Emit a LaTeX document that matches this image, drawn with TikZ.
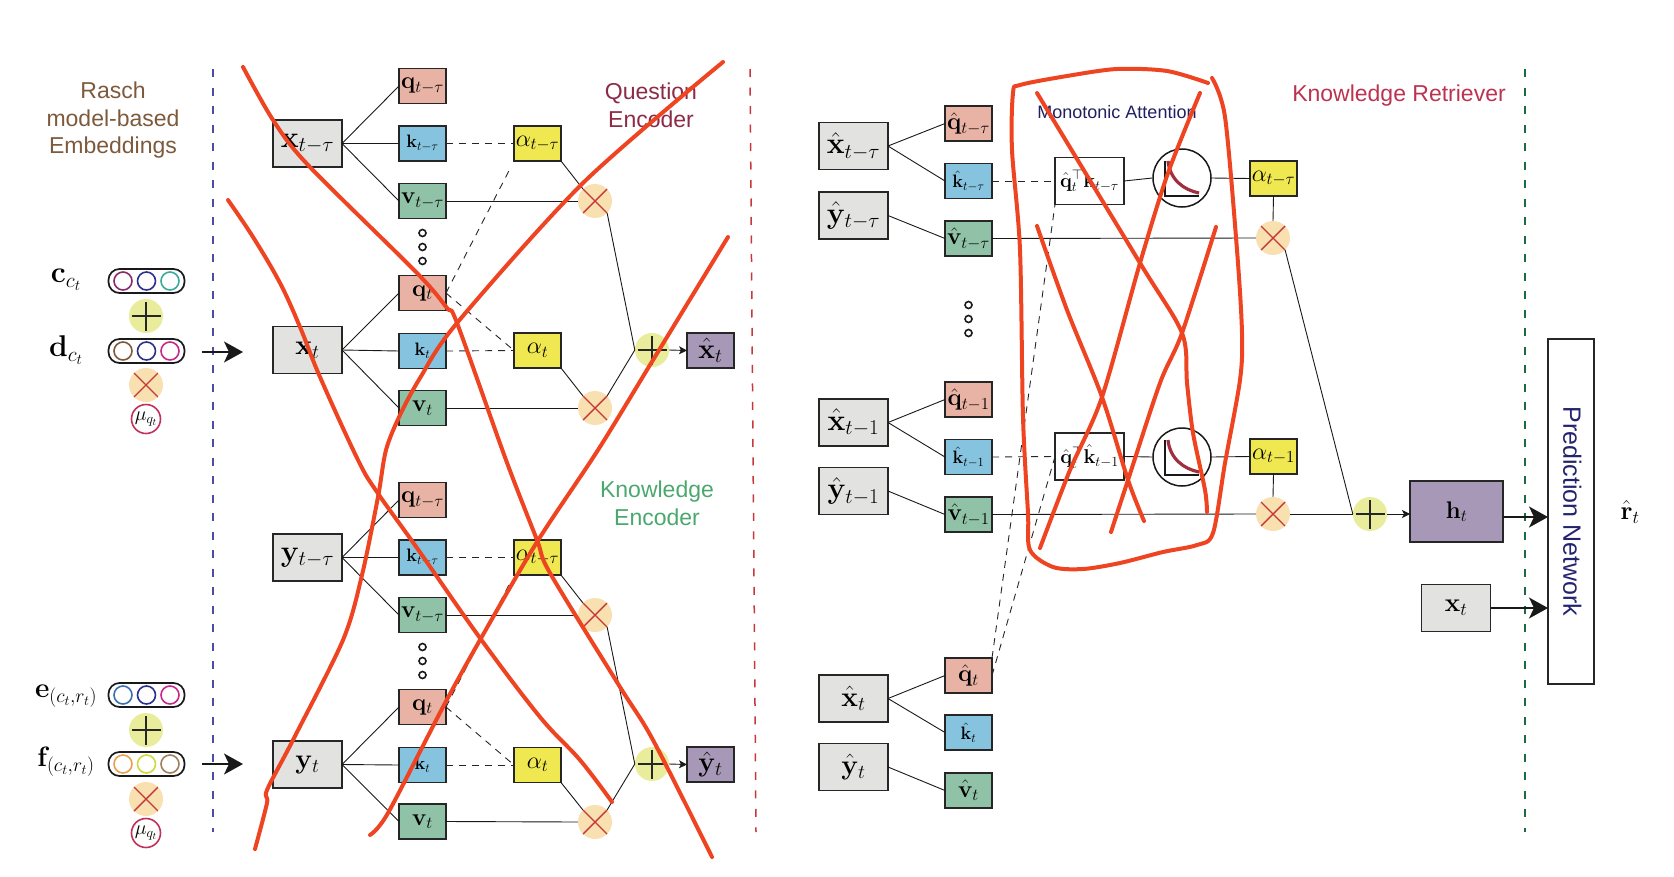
\documentclass[tikz,border=0pt]{standalone}
\usepackage{fix-cm}
\usepackage[no-math]{fontspec}
\usetikzlibrary{arrows.meta}
\newfontfamily\labelfont{Liberation Sans}
\newcommand{\hatb}[1]{\hat{\mathbf{#1}}}
\definecolor{boxgray}{HTML}{E2E2E0}
\definecolor{qfill}{HTML}{E8B2A4}
\definecolor{kfill}{HTML}{85C3DE}
\definecolor{vfill}{HTML}{8FC2A6}
\definecolor{afill}{HTML}{F0E850}
\definecolor{pfill}{HTML}{A898B8}
\definecolor{addfill}{HTML}{E9EC9A}
\definecolor{mulfill}{HTML}{F8E0B0}
\definecolor{mulred}{HTML}{C7383A}
\definecolor{navyc}{HTML}{2B2F8F}
\definecolor{brownc}{HTML}{7D5A3C}
\definecolor{magc}{HTML}{C8278A}
\definecolor{plumc}{HTML}{8A2A6A}
\definecolor{tealc}{HTML}{3AA89A}
\definecolor{bluec}{HTML}{3A6FB0}
\definecolor{orangec}{HTML}{E8A050}
\definecolor{limec}{HTML}{CFD840}
\definecolor{tanc}{HTML}{A07F5A}
\definecolor{murose}{HTML}{C0305A}
\definecolor{curvec}{HTML}{A03040}
\definecolor{qenctext}{HTML}{8C2A48}
\definecolor{kenctext}{HTML}{4AA86E}
\definecolor{krettext}{HTML}{BB3350}
\definecolor{monotext}{HTML}{1E2060}
\definecolor{predtext}{HTML}{24246E}
\definecolor{sepgreen}{HTML}{1E6A40}
\definecolor{pen}{HTML}{EE4422}
\tikzset{
  basebox/.style={draw=black!85,line width=1.7,inner sep=0,outer sep=0},
  sizebig/.style={font=\fontsize{30}{32}\selectfont},
  sizet/.style={font=\fontsize{28}{30}\selectfont},
  sizemid/.style={font=\fontsize{24}{26}\selectfont},
  sizek/.style={font=\fontsize{18}{20}\selectfont},
  emb/.style={basebox,fill=boxgray,minimum width=69,minimum height=47},
  qbox/.style={basebox,fill=qfill,minimum width=47,minimum height=35,sizemid},
  kbox/.style={basebox,fill=kfill,minimum width=47,minimum height=35,sizek},
  vbox/.style={basebox,fill=vfill,minimum width=47,minimum height=35,sizemid},
  abox/.style={basebox,fill=afill,minimum width=47,minimum height=35,sizemid},
  pbox/.style={basebox,fill=pfill,minimum width=47,minimum height=35,sizemid},
  attbox/.style={basebox,fill=white,minimum width=69,minimum height=47,font=\fontsize{20}{22}\selectfont},
  dotnode/.style={circle,draw=black!90,line width=1.6,minimum size=7,inner sep=0},
  addnode/.style={circle,fill=addfill,minimum size=34,inner sep=0,path picture={
    \draw[black!85,line width=1.2] ([xshift=-14.5pt]path picture bounding box.center) -- ([xshift=14.5pt]path picture bounding box.center);
    \draw[black!85,line width=1.2] ([yshift=-14.5pt]path picture bounding box.center) -- ([yshift=14.5pt]path picture bounding box.center);}},
  mulnode/.style={circle,fill=mulfill,minimum size=34,inner sep=0,path picture={
    \draw[mulred,line width=1.4] ([shift={(-12.5pt,-12.5pt)}]path picture bounding box.center) -- ([shift={(12.5pt,12.5pt)}]path picture bounding box.center);
    \draw[mulred,line width=1.4] ([shift={(-12.5pt,12.5pt)}]path picture bounding box.center) -- ([shift={(12.5pt,-12.5pt)}]path picture bounding box.center);}},
  pill/.style={draw=black!90,line width=1.7,rounded corners=11,minimum width=76,minimum height=24,inner sep=0},
  ring/.style={circle,line width=1.6,minimum size=18,inner sep=0},
  murng/.style={circle,draw=murose,line width=1.6,minimum size=29,inner sep=0,font=\fontsize{20}{22}\selectfont},
  wire/.style={black!90,line width=0.9},
  dashwire/.style={black!85,line width=0.9,dash pattern=on 7pt off 6pt},
  bigarrow/.style={black!90,line width=1.5,-{Stealth[length=19,width=21,inset=5]}},
  smallarrow/.style={black!90,line width=0.9,-{Stealth[length=8,width=8,inset=2]}},
  sepline/.style={line width=1.5,dash pattern=on 8pt off 10.5pt},
  sftext/.style={font=\labelfont\fontsize{23}{27.5}\selectfont,align=center,inner sep=0},
  redpen/.style={pen,line width=4,line cap=round,line join=round}
}
\begin{document}
\begin{tikzpicture}[x=1pt,y=-1pt]
	\useasboundingbox (0,0) rectangle (1674,876);

	\node[sftext,text=brownc] (rasch) at (113,120.5) {Rasch\\model-based\\Embeddings};
	\node[sftext,text=qenctext] (qenc) at (651,105.5) {Question\\Encoder};
	\node[sftext,text=kenctext] (kenc) at (657,503.5) {Knowledge\\Encoder};
	\node[sftext,text=krettext] (kret) at (1399,96) {Knowledge Retriever};
	\node[sftext,text=monotext,font=\labelfont\fontsize{18}{20}\selectfont] (mono) at (1117,112) {Monotonic Attention};

	\draw[sepline,navyc!85] (213,69) -- (213,832);
	\draw[sepline,mulred] (750,69) -- (756,832);
	\draw[sepline,sepgreen] (1525,69) -- (1525,832);

	\node[emb,sizebig] (xa) at (307.5,143.5) {$\mathbf{x}_{t-\tau}$};
	\node[emb,sizet] (xb) at (307.5,350) {$\mathbf{x}_t$};
	\node[emb,sizebig] (ya) at (307.5,557.5) {$\mathbf{y}_{t-\tau}$};
	\node[emb,sizet] (yb) at (307.5,764.5) {$\mathbf{y}_t$};
	\node[emb,sizebig] (hxa) at (853.5,146) {$\hatb{x}_{t-\tau}$};
	\node[emb,sizebig] (hya) at (853.5,215.5) {$\hatb{y}_{t-\tau}$};
	\node[emb,sizebig] (hxb) at (853.5,422.5) {$\hatb{x}_{t-1}$};
	\node[emb,sizebig] (hyb) at (853.5,491) {$\hatb{y}_{t-1}$};
	\node[emb,sizet] (hxc) at (853.5,698.5) {$\hatb{x}_t$};
	\node[emb,sizet] (hyc) at (853.5,767) {$\hatb{y}_t$};

	\foreach \nm/\xpos/\ypos/\lab in {qa/422.5/86/{\mathbf{q}_{t-\tau}},qb/422.5/293/{\mathbf{q}_t},qc/422.5/500/{\mathbf{q}_{t-\tau}},qd/422.5/707/{\mathbf{q}_t},hqa/968.5/123.5/{\hatb{q}_{t-\tau}},hqb/968.5/399.5/{\hatb{q}_{t-1}},hqc/968.5/675.5/{\hatb{q}_t}}{
		\node[qbox] (\nm) at (\xpos,\ypos) {$\lab$};
	}
	\foreach \nm/\xpos/\ypos/\lab in {ka/422.5/143.5/{\mathbf{k}_{t-\tau}},kb/422.5/351/{\mathbf{k}_t},kc/422.5/557.5/{\mathbf{k}_{t-\tau}},kd/422.5/765/{\mathbf{k}_t},hka/968.5/181/{\hatb{k}_{t-\tau}},hkb/968.5/457/{\hatb{k}_{t-1}},hkc/968.5/732.5/{\hatb{k}_t}}{
		\node[kbox] (\nm) at (\xpos,\ypos) {$\lab$};
	}
	\foreach \nm/\xpos/\ypos/\lab in {va/422.5/201/{\mathbf{v}_{t-\tau}},vb/422.5/408/{\mathbf{v}_t},vc/422.5/615/{\mathbf{v}_{t-\tau}},vd/422.5/821.5/{\mathbf{v}_t},hva/968.5/238.5/{\hatb{v}_{t-\tau}},hvb/968.5/514.5/{\hatb{v}_{t-1}},hvc/968.5/790.5/{\hatb{v}_t}}{
		\node[vbox] (\nm) at (\xpos,\ypos) {$\lab$};
	}
	\foreach \nm/\xpos/\ypos/\lab in {aa/537.5/143.5/{\alpha_{t-\tau}},ab/537.5/350.5/{\alpha_t},ac/537.5/557.5/{\alpha_{t-\tau}},ad/537.5/765/{\alpha_t},ha/1273.5/178.5/{\alpha_{t-\tau}},hb/1273.5/456.5/{\alpha_{t-1}}}{
		\node[abox] (\nm) at (\xpos,\ypos) {$\lab$};
	}
	\foreach \nm/\xpos/\ypos in {ma/595/201,mb/595/408,mc/595/615,md/595/822,me/1273/238,mf/1273/514}{
		\node[mulnode] (\nm) at (\xpos,\ypos) {};
	}
	\foreach \nm/\xpos/\ypos in {pa/652/350,pb/652/764,pc/1370/514}{
		\node[addnode] (\nm) at (\xpos,\ypos) {};
	}
	\foreach \nm/\xpos/\ypos in {da/422.5/233,db/422.5/247,dc/422.5/261,dd/422.5/647,de/422.5/661,df/422.5/675,dg/968.5/305,dh/968.5/319,di/968.5/333}{
		\node[dotnode] (\nm) at (\xpos,\ypos) {};
	}
	\node[pbox,sizet] (hatx) at (710.5,350.5) {$\hatb{x}_t$};
	\node[pbox,sizet] (haty) at (710.5,764.5) {$\hatb{y}_t$};

	\foreach \nm/\ypos/\cola/\colb/\colc in {pila/281/plumc/navyc/tealc,pilb/351/brownc/navyc/magc,pilc/695/bluec/navyc/magc,pild/764/orangec/limec/tanc}{
		\node[pill] (\nm) at (146.5,\ypos) {};
		\node[ring,draw=\cola] (\nm1) at (123,\ypos) {};
		\node[ring,draw=\colb] (\nm2) at (146.5,\ypos) {};
		\node[ring,draw=\colc] (\nm3) at (170,\ypos) {};
	}
	\node[addnode] (ea) at (146,316) {};
	\node[mulnode] (eb) at (146,385) {};
	\node[murng] (muone) at (146,419) {$\mu_{q_t}$};
	\node[addnode] (ec) at (146,730) {};
	\node[mulnode] (ed) at (146,799) {};
	\node[murng] (mutwo) at (146,833) {$\mu_{q_t}$};
	\node[font=\fontsize{30}{32}\selectfont] (lc) at (66,280) {$\mathbf{c}_{c_t}$};
	\node[font=\fontsize{30}{32}\selectfont] (ld) at (66,350) {$\mathbf{d}_{c_t}$};
	\node[font=\fontsize{28}{30}\selectfont] (le) at (66,696) {$\mathbf{e}_{(c_t,r_t)}$};
	\node[font=\fontsize{28}{30}\selectfont] (lf) at (66,762) {$\mathbf{f}_{(c_t,r_t)}$};

	\node[attbox] (tta) at (1089.5,181) {$\hatb{q}_t^{\top}\mathbf{k}_{t-\tau}$};
	\node[attbox] (ttb) at (1089.5,456.5) {$\hatb{q}_t^{\top}\hatb{k}_{t-1}$};
	\foreach \nm/\ypos in {ca/178,cb/457}{
		\node[circle,draw=black!90,line width=1.5,minimum size=58,inner sep=0] (\nm) at (1182,\ypos) {};
		\draw[black!90,line width=1.5] ([shift={(-17,-17)}]\nm.center) -- ([shift={(-17,18)}]\nm.center) -- ([shift={(17,18)}]\nm.center);
		\draw[curvec,line width=3.2] ([shift={(-14,-17)}]\nm.center) .. controls ([shift={(-12,2)}]\nm.center) and ([shift={(2,12)}]\nm.center) .. ([shift={(17,15)}]\nm.center);
	}
	\node[emb,minimum width=93,minimum height=61,fill=pfill,font=\fontsize{24}{26}\selectfont] (ht) at (1456.5,511.5) {$\mathbf{h}_t$};
	\node[emb,font=\fontsize{26}{28}\selectfont] (xe) at (1456,608) {$\mathbf{x}_t$};
	\node[basebox,fill=white,rotate=-90,minimum width=345,minimum height=46,text=predtext,font=\labelfont\fontsize{25}{27}\selectfont] (pn) at (1571,511.5) {\raisebox{3pt}{Prediction Network}};
	\node[font=\fontsize{26}{28}\selectfont] (rt) at (1630,512) {$\hatb{r}_t$};

	\foreach \src/\dst in {xa/qa,xa/ka,xa/va,xb/qb,xb/kb,xb/vb,ya/qc,ya/kc,ya/vc,yb/qd,yb/kd,yb/vd,hxa/hqa,hxa/hka,hya/hva,hxb/hqb,hxb/hkb,hyb/hvb,hxc/hqc,hxc/hkc,hyc/hvc}{
		\draw[wire] (\src.east) -- (\dst.west);
	}
	\foreach \src/\dst in {va/ma,vb/mb,vc/mc,vd/md,hva/me,hvb/mf,tta/ca,ttb/cb,ca/ha,cb/hb,mf/pc}{
		\draw[wire] (\src.east) -- (\dst.west);
	}
	\foreach \src/\dst in {aa/ma,ab/mb,ac/mc,ad/md}{
		\draw[wire] (\src.south east) -- (\dst.north west);
	}
	\draw[wire] (ha.south) -- (me.north);
	\draw[wire] (hb.south) -- (mf.north);
	\draw[wire] (ma.south east) -- (pa.west);
	\draw[wire] (mb.north east) -- (pa.west);
	\draw[wire] (mc.south east) -- (pb.west);
	\draw[wire] (md.north east) -- (pb.west);
	\draw[wire] (me.south east) -- (pc.west);
	\foreach \src/\dst in {ka/aa,kb/ab,kc/ac,kd/ad,hka/tta,hkb/ttb,qb/ab,qd/ad}{
		\draw[dashwire] (\src.east) -- (\dst.west);
	}
	\draw[dashwire,shorten >=6] (qb.east) -- (aa.south west);
	\draw[dashwire,shorten >=6] (qd.east) -- (ac.south west);
	\draw[dashwire] (hqc.north east) -- (tta.south west);
	\draw[dashwire] (hqc.east) -- (ttb.west);

	\draw[smallarrow] (pa.east) -- (hatx.west);
	\draw[smallarrow] (pb.east) -- (haty.west);
	\draw[smallarrow] (pc.east) -- (ht.west |- pc.east);
	\coordinate (ina) at (202,352);
	\coordinate (inb) at (243,352);
	\coordinate (inc) at (202,764);
	\coordinate (ind) at (243,764);
	\coordinate (hout) at ([yshift=-5.5pt]ht.east);
	\draw[bigarrow] (ina) -- (inb);
	\draw[bigarrow] (inc) -- (ind);
	\draw[bigarrow] (hout) -- (hout -| pn.south);
	\draw[bigarrow] (xe.east) -- (xe.east -| pn.south);

	\draw[redpen] plot[smooth,tension=0.5] coordinates {(243,67) (273,120) (308,165) (417,273) (447,308) (457,323) (506,460) (537,540) (550,573) (620,687) (653,740) (712,857)};
	\draw[redpen] plot[smooth,tension=0.6] coordinates {(228,200) (253,237) (280,283) (300,327) (320,377) (358,460) (377,492) (417,548) (480,638) (540,717) (580,760) (612,802)};
	\draw[redpen] plot[smooth,tension=0.5] coordinates {(255,849) (267,803) (267,790) (293,740) (343,640) (362,575) (378,497) (386,450) (400,415) (420,378) (457,323) (583,183) (723,62)};
	\draw[redpen] plot[smooth,tension=0.5] coordinates {(370,835) (388,813) (443,707) (480,640) (537,542) (598,450) (653,360) (728,237)};
	\draw[redpen] plot[smooth,tension=0.5] coordinates {(1208,83) (1167,71) (1117,69) (1067,76) (1020,85) (1013,93) (1012,150) (1020,250) (1023,417) (1028,513) (1030,550) (1053,567) (1083,569) (1120,563) (1163,552) (1197,545) (1213,533) (1225,463) (1240,380) (1242,333) (1237,250) (1225,117) (1212,78)};
	\draw[redpen] plot[smooth,tension=0.5] coordinates {(1037,93) (1140,263) (1182,333) (1187,383) (1193,433) (1205,490) (1207,512)};
	\draw[redpen] plot[smooth,tension=0.5] coordinates {(1200,93) (1168,173) (1140,263) (1102,397) (1070,470) (1040,548)};
	\draw[redpen] plot[smooth,tension=0.5] coordinates {(1037,226) (1067,310) (1102,397) (1128,480) (1144,521)};
	\draw[redpen] plot[smooth,tension=0.5] coordinates {(1216,227) (1182,333) (1160,383) (1128,480) (1111,532)};
\end{tikzpicture}
\end{document}
